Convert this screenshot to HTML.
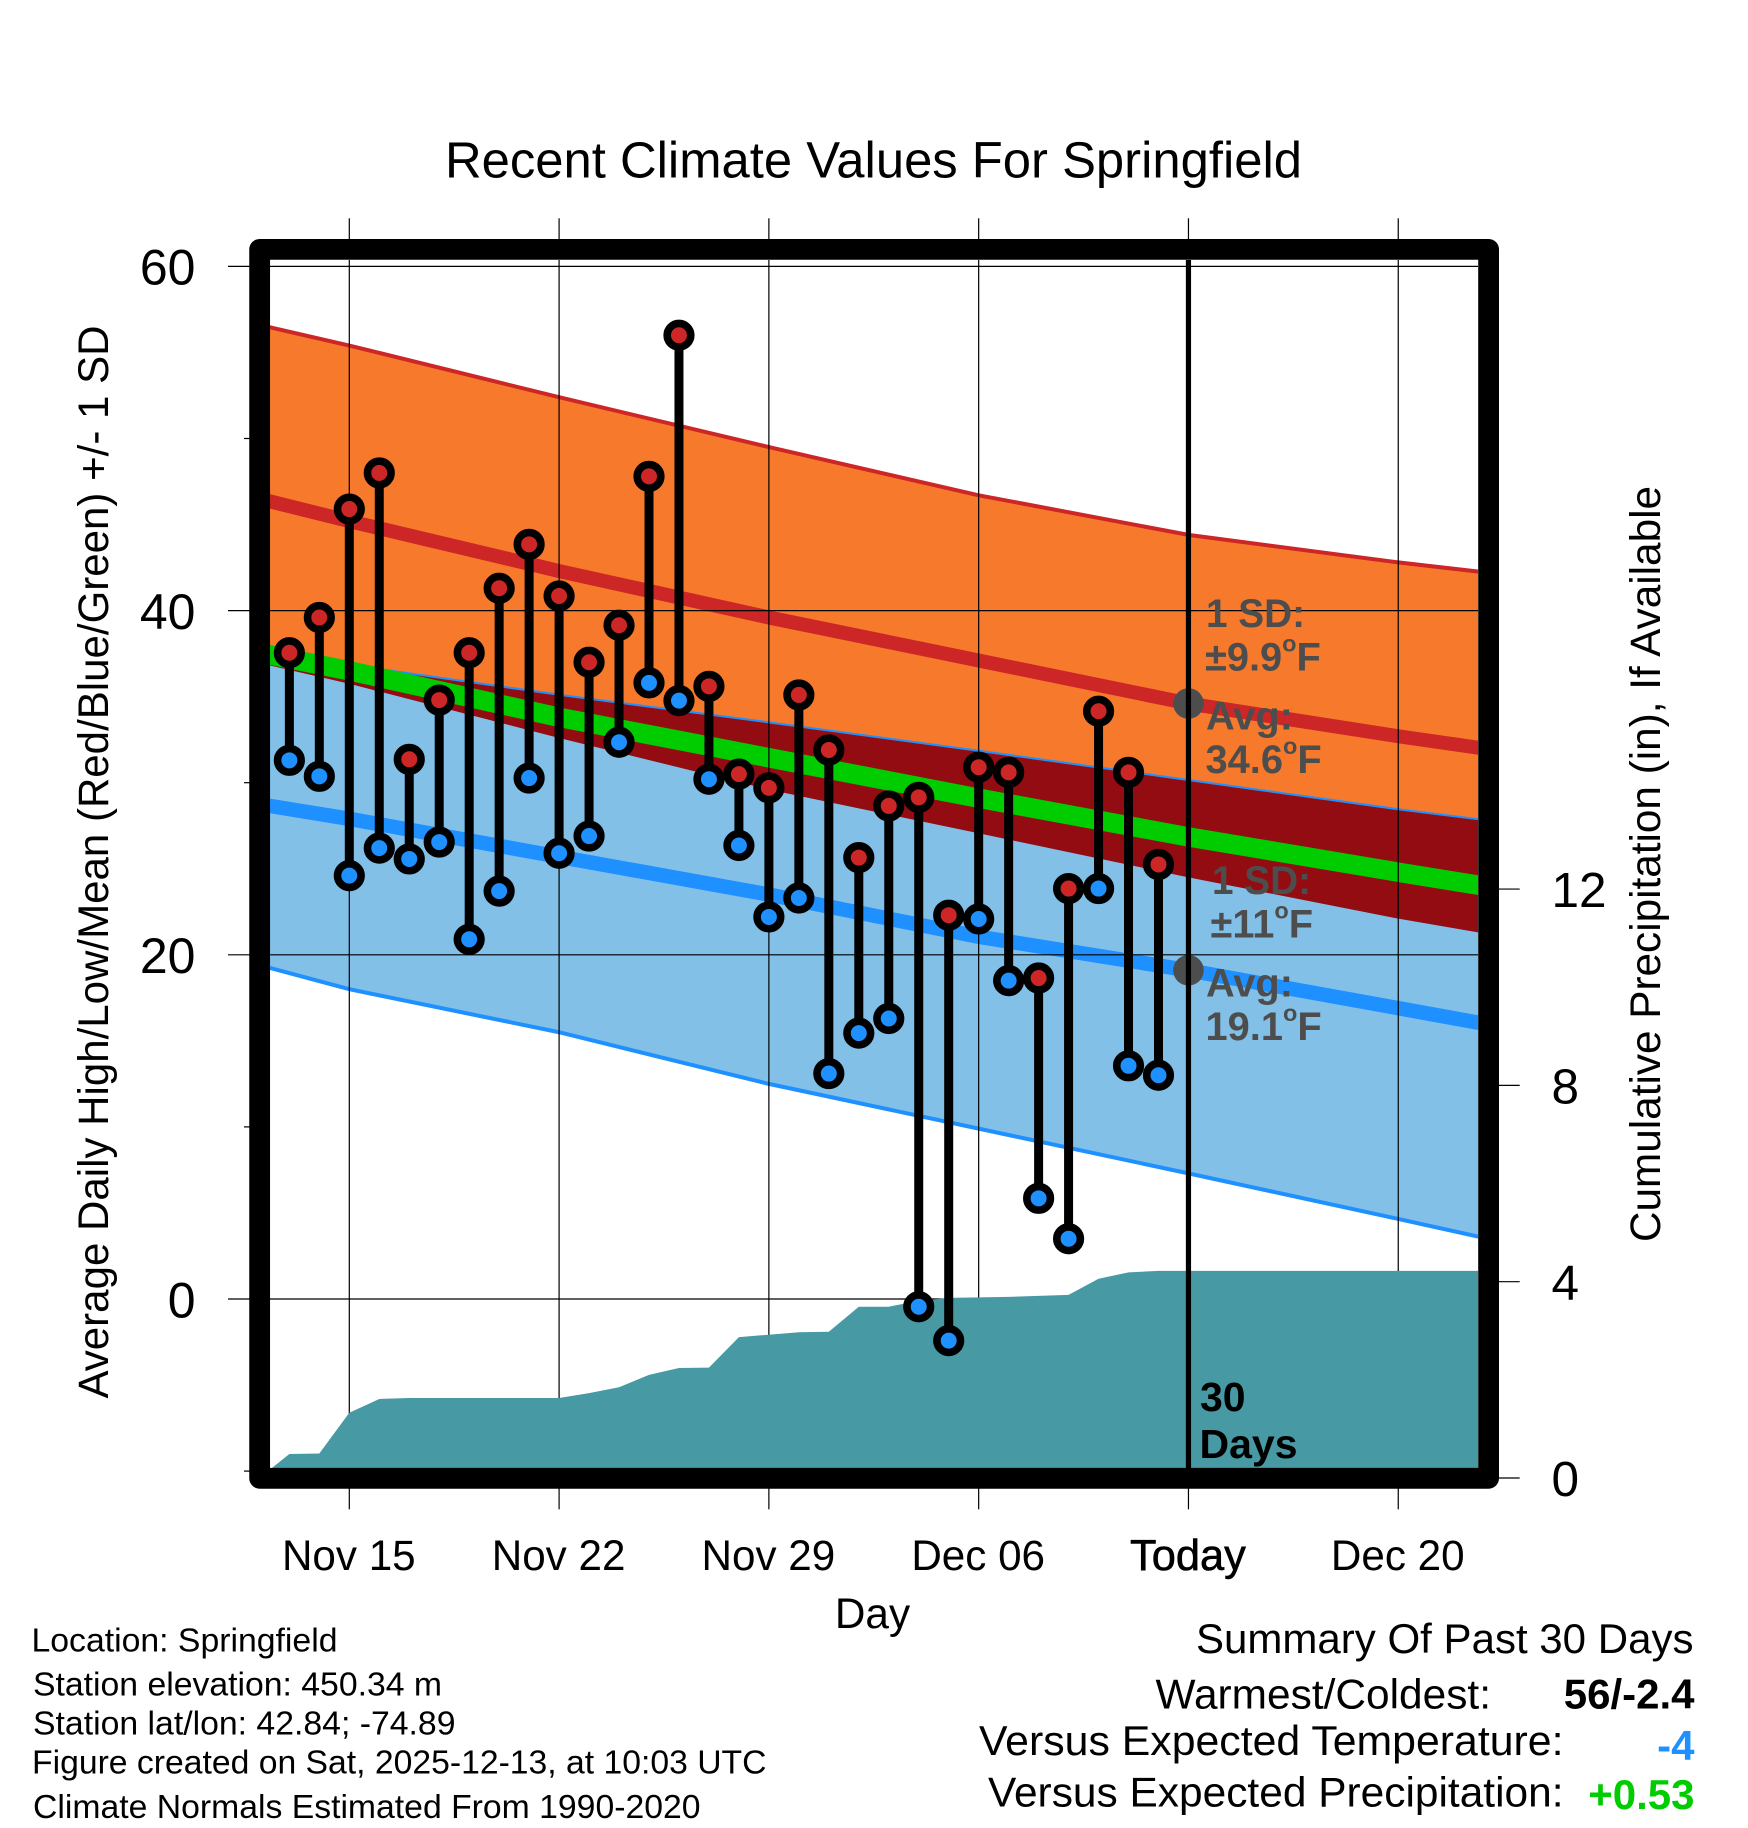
<!DOCTYPE html>
<html lang="en">
<head>
<meta charset="utf-8">
<title>Recent Climate Values For Springfield</title>
<style>
html,body{margin:0;padding:0;background:#fff;}
svg{display:block;}
text{font-family:"Liberation Sans",Arial,sans-serif;fill:#000;}
.b{font-weight:bold;}
.g{font-weight:bold;fill:#4d4d4d;font-size:39.8px;}
.n{font-size:33.7px;}
.s{font-size:42px;}
</style>
</head>
<body>
<svg id="chart" xmlns="http://www.w3.org/2000/svg" width="1748" height="1828" viewBox="0 0 1748 1828">
  <defs>
    <clipPath id="plot-clip"><rect x="270" y="260" width="1208" height="1208"/></clipPath>
  </defs>
  <rect x="0" y="0" width="1748" height="1828" fill="#ffffff"/>
  <text x="873.5" y="177.5" text-anchor="middle" font-size="50.8" textLength="857" lengthAdjust="spacingAndGlyphs">Recent Climate Values For Springfield</text>

  <g id="axis-ticks"></g>
  <g id="plot-area" clip-path="url(#plot-clip)"></g>

  <text class="g" x="1206" y="627" textLength="99" lengthAdjust="spacingAndGlyphs">1 SD:</text>
  <text class="g" x="1205" y="670.6">±9.9<tspan font-size="23.5" dy="-19">o</tspan><tspan dy="19">F</tspan></text>
  <text class="g" x="1206" y="729.6">Avg:</text>
  <text class="g" x="1205.5" y="772.8">34.6<tspan font-size="23.5" dy="-19">o</tspan><tspan dy="19">F</tspan></text>
  <text class="g" x="1212" y="894" textLength="99" lengthAdjust="spacingAndGlyphs">1 SD:</text>
  <text class="g" x="1210.5" y="937.3">±11<tspan font-size="23.5" dy="-19">o</tspan><tspan dy="19">F</tspan></text>
  <text class="g" x="1206" y="996.7">Avg:</text>
  <text class="g" x="1205.5" y="1039.9">19.1<tspan font-size="23.5" dy="-19">o</tspan><tspan dy="19">F</tspan></text>
  <text class="b" x="1200" y="1411" font-size="41">30</text>
  <text class="b" x="1199.5" y="1458" font-size="41">Days</text>

  <rect x="259.65" y="249.4" width="1228.95" height="1228.9" fill="none" stroke="#000" stroke-width="20.8" stroke-linejoin="round"/>

  <text x="872.5" y="1628" text-anchor="middle" font-size="42.3">Day</text>
  <text transform="rotate(-90 108 862)" x="108" y="862" text-anchor="middle" font-size="43" textLength="1073" lengthAdjust="spacingAndGlyphs">Average Daily High/Low/Mean (Red/Blue/Green) +/- 1 SD</text>
  <text transform="rotate(-90 1660 864)" x="1660" y="864" text-anchor="middle" font-size="43" textLength="756" lengthAdjust="spacingAndGlyphs">Cumulative Precipitation (in), If Available</text>

  <text class="n" x="31.5" y="1651.5" textLength="306" lengthAdjust="spacingAndGlyphs">Location: Springfield</text>
  <text class="n" x="33" y="1695.5" textLength="409" lengthAdjust="spacingAndGlyphs">Station elevation: 450.34 m</text>
  <text class="n" x="33" y="1734.5" textLength="422.5" lengthAdjust="spacingAndGlyphs">Station lat/lon: 42.84; -74.89</text>
  <text class="n" x="32" y="1773.5" textLength="734.5" lengthAdjust="spacingAndGlyphs">Figure created on Sat, 2025-12-13, at 10:03 UTC</text>
  <text class="n" x="33" y="1818" textLength="667.5" lengthAdjust="spacingAndGlyphs">Climate Normals Estimated From 1990-2020</text>

  <text class="s" x="1196" y="1653" textLength="497.5" lengthAdjust="spacingAndGlyphs">Summary Of Past 30 Days</text>
  <text class="s" x="1155.5" y="1708.5" textLength="335.5" lengthAdjust="spacingAndGlyphs">Warmest/Coldest:</text>
  <text class="s b" x="1694.5" y="1708.5" text-anchor="end">56/-2.4</text>
  <text class="s" x="979" y="1755" textLength="584.5" lengthAdjust="spacingAndGlyphs">Versus Expected Temperature:</text>
  <text class="s b" x="1694.5" y="1760" text-anchor="end" style="fill:#1e90ff">-4</text>
  <text class="s" x="988" y="1806.5" textLength="575.5" lengthAdjust="spacingAndGlyphs">Versus Expected Precipitation:</text>
  <text class="s b" x="1694.5" y="1809" text-anchor="end" style="fill:#00cc00">+0.53</text>
</svg>
<script>
// Days are counted from Nov 0, so Nov 15 = 15 and Dec 13 = 43.
const normalDays = [12, 15, 22, 29, 36, 43, 50, 53];
const highUpper  = [56.6, 55.4, 52.4, 49.5, 46.7, 44.4, 42.8, 42.2];
const highMean   = [46.5, 45.2, 42.3, 39.6, 37.1, 34.6, 32.7, 31.95];
const highLower  = [36.95, 35.75, 32.6, 29.6, 27.06, 24.5, 22.1, 21.2];
const lowUpper   = [37.6, 36.8, 35.05, 33.45, 31.8, 30.1, 28.4, 27.75];
const lowMean    = [28.75, 27.9, 25.7, 23.5, 21.05, 19.1, 16.9, 15.95];
const lowLower   = [19.4, 18.0, 15.5, 12.5, 9.9, 7.3, 4.65, 3.5];
const meanMean   = [37.55, 36.5, 33.8, 31.45, 29.1, 26.85, 24.8, 23.95];

const obsDays = [13,14,15,16,17,18,19,20,21,22,23,24,25,26,27,28,29,30,31,32,33,34,35,36,37,38,39,40,41,42];
const obsHigh = [37.55,39.6,45.9,48,31.36,34.8,37.55,41.3,43.85,40.85,37,39.15,47.8,56,35.6,30.5,29.7,35.1,31.9,25.65,28.65,29.15,22.3,30.9,30.6,18.65,23.85,34.15,30.6,25.25];
const obsLow  = [31.3,30.37,24.6,26.2,25.57,26.55,20.9,23.7,30.27,25.9,26.9,32.35,35.8,34.77,30.2,26.35,22.2,23.3,13.1,15.45,16.3,-0.45,-2.42,22.08,18.5,5.85,3.5,23.85,13.55,13];

const precipDays = [12,13,14,15,16,17,18,19,20,21,22,23,24,25,26,27,28,29,30,31,32,33,34,35,36,37,38,39,40,41,42,53];
const precipVals = [0,0.49,0.5,1.33,1.61,1.63,1.63,1.63,1.63,1.63,1.63,1.73,1.85,2.1,2.24,2.25,2.87,2.92,2.97,2.98,3.49,3.49,3.61,3.67,3.68,3.69,3.71,3.73,4.06,4.19,4.22,4.22];

const xTickDays   = [15, 22, 29, 36, 43, 50];
const xTickLabels = ['Nov 15', 'Nov 22', 'Nov 29', 'Dec 06', 'Today', 'Dec 20'];
const yTickValues = [60, 40, 20, 0];
const yMinorTicks = [50, 30, 10, -10];
const rightTickValues = [12, 8, 4, 0];
const todayDay = 43;
const todayHigh = 34.6;
const todayLow = 19.1;

const SVGNS = 'http://www.w3.org/2000/svg';
function xS(d){ return 349.3 + 29.97 * (d - 15); }
function yS(v){ return 1299 - 17.21 * v; }
function yR(v){ return 1478 - 49.08 * v; }
function mk(parent, tag, attrs){
  const el = document.createElementNS(SVGNS, tag);
  for (const k in attrs) el.setAttribute(k, attrs[k]);
  parent.appendChild(el);
  return el;
}
function pts(days, vals, scale){
  return days.map((d, i) => xS(d).toFixed(2) + ',' + scale(vals[i]).toFixed(2));
}
function band(upper, lower){
  return pts(normalDays, upper, yS).concat(pts(normalDays, lower, yS).reverse()).join(' ');
}
function curve(vals){ return pts(normalDays, vals, yS).join(' '); }

const plot = document.getElementById('plot-area');
const ticks = document.getElementById('axis-ticks');
let el;

el = mk(plot, 'polygon', {points: band(highUpper, highLower), fill: '#f77a2c'});



el = mk(plot, 'polyline', {points: curve(lowUpper), fill: 'none', stroke: '#1e90ff', 'stroke-width': 4});



el = mk(plot, 'polygon', {points: band(lowUpper, lowLower), fill: '#83c0e8'});



el = mk(plot, 'polygon', {points: band(lowUpper, highLower), fill: '#920c12'});



el = mk(plot, 'polyline', {points: curve(highUpper), fill: 'none', stroke: '#cd2626', 'stroke-width': 4});



el = mk(plot, 'polyline', {points: curve(lowLower), fill: 'none', stroke: '#1e90ff', 'stroke-width': 4});



el = mk(plot, 'polyline', {points: curve(highMean), fill: 'none', stroke: '#cd2626', 'stroke-width': 14});



el = mk(plot, 'polyline', {points: curve(lowMean), fill: 'none', stroke: '#1e90ff', 'stroke-width': 14.5});



el = mk(plot, 'polyline', {points: curve(meanMean), fill: 'none', stroke: '#00cc00', 'stroke-width': 19.5});



// gridlines sit above the bands and below the precipitation area
yTickValues.forEach(v => {
  const g = mk(plot, 'line', {x1: 270, x2: 1478, y1: yS(v), y2: yS(v), stroke: '#000', 'stroke-width': 1.2});
  
  
});
xTickDays.forEach(d => {
  if (d === todayDay) return;
  const g = mk(plot, 'line', {x1: xS(d), x2: xS(d), y1: 260, y2: 1468, stroke: '#000', 'stroke-width': 1.2});
  
  
});

const baseY = yR(0);
const precipPts = [xS(precipDays[0]).toFixed(2) + ',' + baseY]
  .concat(pts(precipDays, precipVals, yR))
  .concat([xS(precipDays[precipDays.length - 1]).toFixed(2) + ',' + baseY]).join(' ');
el = mk(plot, 'polygon', {points: precipPts, fill: '#4799a3'});



el = mk(plot, 'circle', {cx: xS(todayDay), cy: yS(todayHigh), r: 15.3, fill: '#4d4d4d'});



el = mk(plot, 'circle', {cx: xS(todayDay), cy: yS(todayLow), r: 15.3, fill: '#4d4d4d'});



el = mk(plot, 'line', {x1: xS(todayDay), x2: xS(todayDay), y1: 260, y2: 1468, stroke: '#000', 'stroke-width': 5.2});



obsDays.forEach((d, i) => {
  const s = mk(plot, 'line', {x1: xS(d), x2: xS(d), y1: yS(obsHigh[i]), y2: yS(obsLow[i]), stroke: '#000', 'stroke-width': 9});
  
  
});
obsDays.forEach((d, i) => {
  const lo = mk(plot, 'circle', {cx: xS(d), cy: yS(obsLow[i]), r: 11.8, fill: '#1e90ff', stroke: '#000', 'stroke-width': 7.6});
  
  
  const hi = mk(plot, 'circle', {cx: xS(d), cy: yS(obsHigh[i]), r: 11.8, fill: '#cd2626', stroke: '#000', 'stroke-width': 7.6});
  
  
});

// axis ticks and tick labels
xTickDays.forEach((d, i) => {
  const t1 = mk(ticks, 'line', {x1: xS(d), x2: xS(d), y1: 218.3, y2: 239.5, stroke: '#000', 'stroke-width': 1.2});
  
  
  const t2 = mk(ticks, 'line', {x1: xS(d), x2: xS(d), y1: 1488, y2: 1509.3, stroke: '#000', 'stroke-width': 1.2});
  
  
  const lab = mk(ticks, 'text', {x: xS(d) - 0.5, y: 1570, 'text-anchor': 'middle', 'font-size': 42.2});
  lab.textContent = xTickLabels[i];
  if (d === todayDay) {
    lab.setAttribute('stroke', '#000');
    lab.setAttribute('stroke-width', '0.6');
    lab.setAttribute('font-size', '43.4');
  }
  
  
});
yTickValues.forEach(v => {
  const t = mk(ticks, 'line', {x1: 228, x2: 250, y1: yS(v), y2: yS(v), stroke: '#000', 'stroke-width': 1.2});
  
  
  const lab = mk(ticks, 'text', {x: 195.5, y: yS(v) + 18.3, 'text-anchor': 'end', 'font-size': 50});
  lab.textContent = String(v);
  
  
});
yMinorTicks.forEach(v => {
  const t = mk(ticks, 'line', {x1: 244, x2: 250, y1: yS(v), y2: yS(v), stroke: '#000', 'stroke-width': 1.2});
  
  
});
rightTickValues.forEach(v => {
  const t = mk(ticks, 'line', {x1: 1498, x2: 1519.7, y1: yR(v), y2: yR(v), stroke: '#000', 'stroke-width': 1.2});
  
  
  const lab = mk(ticks, 'text', {x: 1551.5, y: yR(v) + 18, 'font-size': 49.5});
  lab.textContent = String(v);
  
  
});
</script>
</body>
</html>
